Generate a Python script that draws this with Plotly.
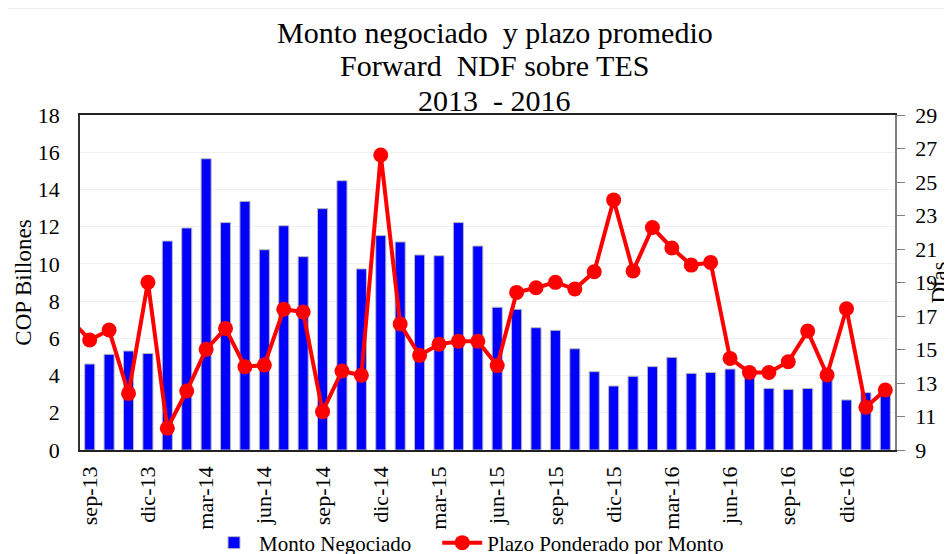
import plotly.graph_objects as go

months = ["sep-13", "oct-13", "nov-13", "dic-13",
          "ene-14", "feb-14", "mar-14", "abr-14", "may-14", "jun-14",
          "jul-14", "ago-14", "sep-14", "oct-14", "nov-14", "dic-14",
          "ene-15", "feb-15", "mar-15", "abr-15", "may-15", "jun-15",
          "jul-15", "ago-15", "sep-15", "oct-15", "nov-15", "dic-15",
          "ene-16", "feb-16", "mar-16", "abr-16", "may-16", "jun-16",
          "jul-16", "ago-16", "sep-16", "oct-16", "nov-16", "dic-16",
          "ene-17", "feb-17"]
prev_month = "ago-13"

monto = [4.62, 5.14, 5.32, 5.19,
         11.23, 11.93, 15.65, 12.22, 13.36, 10.76,
         12.05, 10.39, 12.97, 14.47, 9.73, 11.52,
         11.18, 10.48, 10.44, 12.22, 10.96, 7.67,
         7.56, 6.57, 6.43, 5.44, 4.21, 3.44,
         3.96, 4.48, 4.98, 4.12, 4.17, 4.35,
         4.10, 3.31, 3.26, 3.31, 3.94, 2.69,
         3.08, 3.02]

prev_plazo = 16.8
plazo = [15.57, 16.16, 12.38, 19.01,
         10.30, 12.52, 15.01, 16.26, 13.97, 14.07,
         17.40, 17.24, 11.29, 13.72, 13.46, 26.61,
         16.52, 14.65, 15.31, 15.49, 15.49, 14.04,
         18.41, 18.69, 19.01, 18.61, 19.64, 23.93,
         19.69, 22.28, 21.06, 20.04, 20.20, 14.47,
         13.63, 13.63, 14.27, 16.10, 13.48, 17.43,
         11.55, 12.58]

tick_labels = months[::3]
left_ticks = list(range(0, 19, 2))
right_ticks = list(range(9, 30, 2))

title_lines = ["Monto negociado  y plazo promedio", "Forward  NDF sobre TES", "2013  - 2016"]
series_names = ["Monto Negociado\u00a0\u00a0\u00a0\u00a0", "Plazo Ponderado por Monto"]

FONT = "Liberation Serif"
# the page has an 8px body margin, so the figure starts at (8, 8) on screen
OFF = 8
PLOT_L, PLOT_R, PLOT_T, PLOT_B = 80, 895, 115, 450
PLOT_H = float(PLOT_B - PLOT_T)
PLOT_W = float(PLOT_R - PLOT_L)
FIG_W, FIG_H = 952 - OFF, 554 - OFF

fig = go.Figure()
fig.add_trace(go.Bar(
    x=months, y=monto, name=series_names[0],
    marker=dict(color="#0000FF", line=dict(color="#BBBBBB", width=1)),
    yaxis="y",
))
fig.add_trace(go.Scatter(
    x=[prev_month] + months, y=[prev_plazo] + plazo, name=series_names[1],
    mode="lines+markers",
    line=dict(color="#FF0000", width=4),
    marker=dict(color="#FF0000", size=15),
    yaxis="y2",
))

title_y_px = [32, 66, 100]
annotations = [
    dict(text=t, xref="paper", yref="paper", x=(495 - PLOT_L) / PLOT_W,
         y=(PLOT_B - yp) / PLOT_H, xanchor="center", yanchor="middle",
         showarrow=False, font=dict(size=30, family=FONT, color="black"))
    for t, yp in zip(title_lines, title_y_px)
]

fig.update_layout(
    width=FIG_W, height=FIG_H,
    margin=dict(l=PLOT_L - OFF, r=FIG_W - (PLOT_R - OFF), t=PLOT_T - OFF,
                b=FIG_H - (PLOT_B - OFF), autoexpand=False),
    paper_bgcolor="white", plot_bgcolor="white",
    font=dict(family=FONT, size=21, color="black"),
    bargap=0.48,
    showlegend=True,
    legend=dict(orientation="h", x=(469 - PLOT_L) / PLOT_W, xanchor="center",
                y=(PLOT_B - 543) / PLOT_H, yanchor="middle",
                bgcolor="rgba(0,0,0,0)",
                font=dict(size=21, family=FONT), itemwidth=40, tracegroupgap=0),
    xaxis=dict(type="category", categoryorder="array",
               categoryarray=[prev_month] + months,
               range=[0.5, len(months) + 0.5], automargin=False,
               tickmode="array", tickvals=tick_labels, ticktext=tick_labels,
               tickangle=-90, showline=True, linecolor="#222222", linewidth=1.5,
               mirror=True, showgrid=False,
               ticks="outside", ticklen=6, tickcolor="rgba(0,0,0,0)",
               tickfont=dict(size=22, family=FONT)),
    yaxis=dict(range=[0, 18], tickvals=left_ticks, showline=True, automargin=False,
               linecolor="#333333", linewidth=1.5, showgrid=True,
               gridcolor="#F0F0F0", gridwidth=1, zeroline=False,
               ticks="outside", ticklen=14, tickcolor="rgba(0,0,0,0)",
               tickfont=dict(size=22, family=FONT),
               title=dict(text="COP Billones", standoff=0, font=dict(size=23, family=FONT))),
    yaxis2=dict(range=[9, 29], tickvals=right_ticks, overlaying="y", side="right",
                automargin=False,
                showline=True, linecolor="#808080", linewidth=1.5, showgrid=False,
                zeroline=False, ticks="outside", ticklen=8, tickcolor="#808080",
                ticklabelstandoff=6, tickfont=dict(size=22, family=FONT),
                title=dict(text="Días", standoff=16, font=dict(size=23, family=FONT))),
    annotations=annotations,
    shapes=[dict(type="line", xref="paper", yref="paper",
                 x0=(8 - PLOT_L) / PLOT_W, x1=(952 - PLOT_L) / PLOT_W,
                 y0=(PLOT_B - 8) / PLOT_H, y1=(PLOT_B - 8) / PLOT_H,
                 line=dict(color="#E6E6E6", width=1.5))],
)

fig.write_html("out.html")
